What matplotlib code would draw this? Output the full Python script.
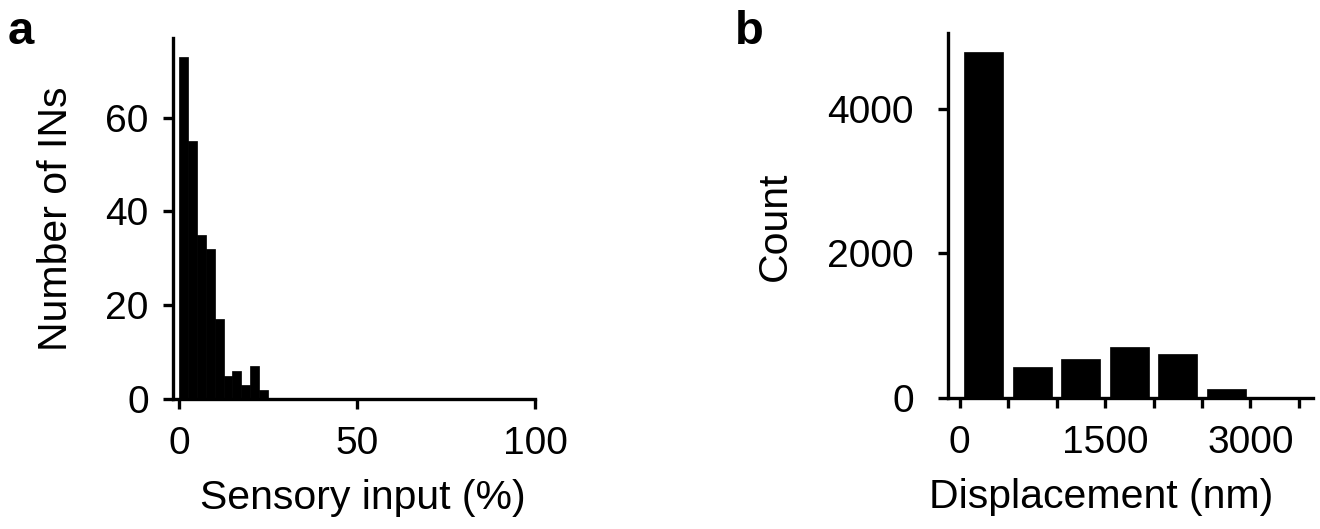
import matplotlib
matplotlib.use("Agg")
import matplotlib.pyplot as plt
import numpy as np

plt.rcParams['font.family'] = ['Liberation Sans', 'DejaVu Sans']
plt.rcParams['font.size'] = 28

# panel a: sensory input histogram (bins of 2.5 %)
a_edges = [0, 2.5, 5, 7.5, 10, 12.5, 15, 17.5, 20, 22.5, 25]
a_counts = [73, 55, 35, 32, 17, 5, 6, 3, 7, 2]
a_xticks = [0, 50, 100]
a_yticks = [0, 20, 40, 60]

# panel b: displacement histogram (bins of 500 nm)
b_edges = [0, 500, 1000, 1500, 2000, 2500, 3000, 3500]
b_counts = [4790, 425, 545, 700, 615, 125, 0]
b_xticks = [0, 500, 1000, 1500, 2000, 2500, 3000, 3500]
b_xlabels = ['0', '', '', '1500', '', '', '3000', '']
b_yticks = [0, 2000, 4000]

lw = 2.4

fig = plt.figure(figsize=(13.2, 5.29), dpi=100)
ax_a = fig.add_axes([173 / 1320, 130 / 529, 362 / 1320, 361 / 529])
ax_b = fig.add_axes([948 / 1320, 131 / 529, 365 / 1320, 365 / 529])

for ax in (ax_a, ax_b):
    ax.spines['top'].set_visible(False)
    ax.spines['right'].set_visible(False)
    ax.spines['left'].set_linewidth(lw)
    ax.spines['bottom'].set_linewidth(lw)
    ax.tick_params(width=lw, length=7.5, direction='out')

# a
ax_a.bar(a_edges[:-1], a_counts, width=np.diff(a_edges), align='edge',
         color='black', edgecolor='black', linewidth=0.5)
ax_a.set_xlim(-1.7, 100)
ax_a.set_ylim(0, 77)
ax_a.set_xticks(a_xticks)
ax_a.set_yticks(a_yticks)
ax_a.tick_params(axis='x', pad=12)
ax_a.tick_params(axis='y', pad=10)
ax_a.set_xlabel('Sensory input (%)', labelpad=12, fontsize=29.5)
ax_a.set_ylabel('Number of INs', labelpad=22, fontsize=29.5)
ax_a.xaxis.label.set_x(0.525)

# b
b_left = np.array(b_edges[:-1])
b_width = np.diff(b_edges)
ax_b.bar(b_left + b_width / 2, b_counts, width=b_width * 0.8,
         color='black', edgecolor='black', linewidth=0.5)
ax_b.set_xlim(-120, 3645)
ax_b.set_ylim(0, 5050)
ax_b.set_xticks(b_xticks)
ax_b.set_xticklabels(b_xlabels)
ax_b.set_yticks(b_yticks)
ax_b.tick_params(axis='x', pad=12)
ax_b.tick_params(axis='y', pad=17)
ax_b.set_xlabel('Displacement (nm)', labelpad=12, fontsize=29.5)
ax_b.set_ylabel('Count', labelpad=24, fontsize=29.5)
ax_b.xaxis.label.set_x(0.42)
ax_b.yaxis.label.set_y(0.47)

fig.text(8 / 1320, 1 - 10 / 529, 'a', fontsize=34, fontweight='bold', va='top')
fig.text(735 / 1320, 1 - 10 / 529, 'b', fontsize=34, fontweight='bold', va='top')

fig.savefig('out.png', dpi=100)
